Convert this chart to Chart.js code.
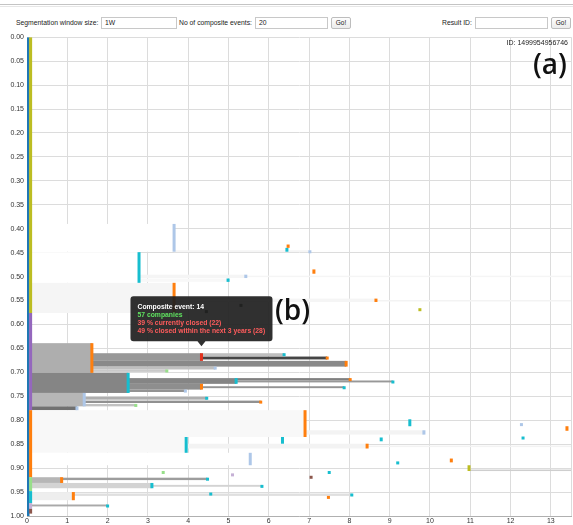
<!DOCTYPE html>
<html>
<head>
<meta charset="utf-8">
<script src="https://cdn.jsdelivr.net/npm/chart.js@4.4.1/dist/chart.umd.min.js"></script>
<style>
  body { margin: 0; width: 573px; height: 525px; overflow: hidden; background: #fff; position: relative;
         font-family: "Liberation Sans", Arial, sans-serif; color: #222; }
  .rule { position: absolute; left: 0; top: 4px; width: 573px; height: 1px; border-top: 1px solid #c4c4c4; border-bottom: 1px solid #e6e6e6; }
  .lbl { position: absolute; top: 17px; height: 12px; line-height: 12px; font-size: 6.8px; white-space: nowrap; }
  .inp { position: absolute; top: 17px; height: 12px; box-sizing: border-box; border: 1px solid #c8c8c8; background: #fff;
         font-size: 6.8px; line-height: 10px; padding-left: 3px; }
  .btn { position: absolute; top: 17px; height: 12px; box-sizing: border-box; border: 1px solid #bdbdbd; border-radius: 2px;
         background: linear-gradient(#fdfdfd, #ececec); font-size: 6.5px; line-height: 10px; text-align: center; }
  #wrap { position: absolute; left: 0; top: 30px; width: 573px; height: 495px; }
  .id { position: absolute; right: 5px; top: 39px; font-size: 7px; }
  .tag { position: absolute; font-family: "Open Sans", "Noto Sans", sans-serif; font-weight: 600; font-size: 28px; color: #111; line-height: 1; }
</style>
</head>
<body>
<div class="rule"></div>
<div class="lbl" style="left:16px">Segmentation window size:</div>
<div class="inp" style="left:101px;width:76px">1W</div>
<div class="lbl" style="left:179px">No of composite events:</div>
<div class="inp" style="left:255px;width:73px">20</div>
<div class="btn" style="left:331px;width:20px">Go!</div>
<div class="lbl" style="left:442px">Result ID:</div>
<div class="inp" style="left:475px;width:73px"></div>
<div class="btn" style="left:551px;width:20px">Go!</div>

<div id="wrap"><canvas id="chart" width="573" height="495"></canvas></div>
<div class="id">ID: 1499954956746</div>
<div class="tag" style="left:533px;top:49px">(a)</div>
<div class="tag" style="left:275px;top:295px">(b)</div>

<script>
// x axis ticks (years) and the right edge of the time range
const xTicks = [0, 1, 2, 3, 4, 5, 6, 7, 8, 9, 10, 11, 12, 13];
const xEnd = 13.5;

// composite-event nodes: time span (x), share of companies (y), event at the end, % closed
const nodeStart  = [0, 0.09, 0.09, 0.09, 0.09, 0.09, 0.09, 0.09,
                    0.1, 3.65, 0.1, 2.78, 2.78, 5.43, 0.1, 3.65, 8.66,
                    0.1, 1.61, 4.33, 4.33, 1.61, 1.61, 1.61,
                    0.1, 2.51, 5.19, 5.19, 2.51, 4.33, 2.51,
                    0.1, 1.42, 1.42, 1.42, 0.1,
                    0.1, 6.9, 0.1, 3.95, 8.44, 0.1, 10.97,
                    0.1, 0.86, 0.1, 3.1, 0.1, 1.15, 0.1];
const nodeEnd    = [0.025, 0.09, 0.09, 0.09, 0.09, 0.09, 0.09, 0.09,
                    3.65, 7.02, 2.78, 4.99, 5.43, 13.5, 3.65, 8.66, 13.5,
                    1.61, 4.33, 6.38, 7.45, 7.92, 4.67, 3.47,
                    2.51, 5.19, 8.02, 9.08, 4.33, 7.87, 3.93,
                    1.42, 4.46, 5.8, 2.7, 1.24,
                    6.9, 9.85, 3.95, 8.44, 13.5, 5.54, 13.5,
                    0.86, 4.48, 3.1, 5.83, 1.15, 8.06, 2.0];
const nodeTop    = [0, 0, 0.576, 0.779, 0.919, 0.948, 0.973, 0.985,
                    0.39, 0.445, 0.449, 0.504, 0.496, 0.498, 0.513, 0.546, 0.549,
                    0.639, 0.66, 0.66, 0.667, 0.676, 0.688, 0.694,
                    0.701, 0.712, 0.712, 0.717, 0.724, 0.729, 0.736,
                    0.743, 0.751, 0.759, 0.766, 0.771,
                    0.779, 0.821, 0.835, 0.849, 0.853, 0.868, 0.903,
                    0.919, 0.92, 0.931, 0.935, 0.95, 0.953, 0.976];
const nodeBottom = [1, 0.576, 0.779, 0.919, 0.948, 0.973, 0.985, 0.995,
                    0.448, 0.449, 0.513, 0.511, 0.503, 0.5, 0.576, 0.553, 0.551,
                    0.701, 0.676, 0.666, 0.673, 0.688, 0.694, 0.699,
                    0.743, 0.724, 0.717, 0.721, 0.736, 0.733, 0.741,
                    0.771, 0.757, 0.764, 0.771, 0.779,
                    0.835, 0.83, 0.868, 0.859, 0.856, 0.894, 0.905,
                    0.931, 0.925, 0.942, 0.939, 0.967, 0.958, 0.98];
const nodeEvent  = ['blue', 'olive', 'purple', 'orange', 'lightgreen', 'cyan', 'lavender', 'brown',
                    'lightblue', 'lightblue', 'cyan', 'cyan', 'lightblue', null, 'orange', 'orange', null,
                    'orange', 'red', 'cyan', 'orange', 'orange', 'lightblue', 'lightgreen',
                    'cyan', 'cyan', 'orange', 'cyan', 'orange', 'cyan', 'lightblue',
                    'lightblue', 'cyan', 'orange', 'lightgreen', 'lightblue',
                    'orange', 'lightblue', 'cyan', 'orange', null, 'lightblue', null,
                    'orange', 'cyan', 'cyan', 'cyan', 'orange', 'cyan', 'cyan'];
const nodeClosed = [0, 0, 0, 0, 0, 0, 0, 0,
                    0, 4, 0, 3, 4, 4, 4, 4, 4,
                    33, 42, 26, 76, 48, 26, 22,
                    50, 50, 52, 42, 46, 44, 44,
                    30, 33, 45, 25, 58,
                    3, 5, 3, 5, 5, 0, 20,
                    30, 40, 18, 18, 7, 13, 35];

// single events without a visible span
const markX      = [6.45, 6.48, 7.12, 9.75, 5.31, 4.45, 9.5, 12.27, 13.4, 6.34, 8.79, 12.31,
                    9.2, 10.53, 10.97, 3.38, 7.5, 5.1, 7.05, 4.56, 7.48];
const markTop    = [0.44, 0.433, 0.485, 0.566, 0.557, 0.570, 0.798, 0.806, 0.8125, 0.835, 0.836, 0.834,
                    0.886, 0.88, 0.894, 0.906, 0.906, 0.911, 0.916, 0.951, 0.958];
const markBottom = [0.448, 0.44, 0.494, 0.572, 0.561, 0.574, 0.8125, 0.81, 0.822, 0.849, 0.844, 0.838,
                    0.891, 0.888, 0.906, 0.91, 0.91, 0.914, 0.92, 0.957, 0.962];
const markEvent  = ['cyan', 'orange', 'orange', 'olive', 'dark', 'dark', 'cyan', 'lightblue', 'orange', 'cyan', 'cyan', 'cyan',
                    'cyan', 'orange', 'olive', 'lightgreen', 'cyan', 'lavender', 'brown', 'cyan', 'orange'];

const tipNode = 18;
const tipLines = ['Composite event: 14', '57 companies', '39 % currently closed (22)', '49 % closed within the next 3 years (28)'];

const eventColors = {
    blue: '#1f77b4', olive: '#bcbd22', purple: '#9467bd', orange: '#ff7f0e', lightgreen: '#98df8a',
    cyan: '#17becf', lavender: '#c5b0d5', brown: '#8c564b', lightblue: '#aec7e8', red: '#e2321d', dark: '#1d2a1d'
};
const tipColors = ['#ffffff', '#5fe05f', '#ff5c5c', '#ff5c5c'];
const FONT = '"Liberation Sans", Arial, sans-serif';

function shade(pct) {
    const l = Math.round(255 - 2.45 * pct);
    return `rgb(${l},${l},${l})`;
}

const icicle = {
    id: 'icicle',
    beforeDatasetsDraw(chart) {
        const { ctx, chartArea: a, scales: { x, y } } = chart;
        ctx.save();
        ctx.beginPath();
        ctx.rect(a.left, a.top, a.right - a.left, a.bottom - a.top);
        ctx.clip();
        // blocks
        for (let i = 0; i < nodeStart.length; i++) {
            const l = x.getPixelForValue(nodeStart[i]);
            const r = x.getPixelForValue(nodeEnd[i]);
            if (r - l < 1) continue;
            const t = y.getPixelForValue(nodeTop[i]);
            const b = y.getPixelForValue(nodeBottom[i]);
            ctx.fillStyle = shade(nodeClosed[i]);
            ctx.fillRect(l, t, r - l, Math.max(b - t, 1.5));
        }
        // event markers at the end of each node
        const mark = (v, top, bottom, ev) => {
            if (!ev) return;
            const p = x.getPixelForValue(v);
            const t = y.getPixelForValue(top);
            const h = Math.max(y.getPixelForValue(bottom) - t, 3);
            ctx.fillStyle = eventColors[ev];
            ctx.fillRect(p - 1.5, t, 3, h);
        };
        for (let i = 0; i < nodeStart.length; i++) mark(nodeEnd[i], nodeTop[i], nodeBottom[i], nodeEvent[i]);
        for (let i = 0; i < markX.length; i++) mark(markX[i], markTop[i], markBottom[i], markEvent[i]);
        ctx.restore();
    },
    afterDraw(chart) {
        const { ctx, scales: { x, y } } = chart;
        const ax = x.getPixelForValue(nodeEnd[tipNode]);
        const ay = y.getPixelForValue(nodeTop[tipNode]) - 7;
        const w = 142, h = 45;
        const left = ax - w / 2, top = ay - 5 - h;
        ctx.save();
        ctx.fillStyle = 'rgba(32,32,32,0.93)';
        ctx.beginPath();
        ctx.roundRect(left, top, w, h, 3);
        ctx.moveTo(ax - 4, top + h);
        ctx.lineTo(ax, ay);
        ctx.lineTo(ax + 4, top + h);
        ctx.closePath();
        ctx.fill();
        ctx.font = 'bold 6.8px ' + FONT;
        ctx.textBaseline = 'alphabetic';
        tipLines.forEach((s, i) => {
            ctx.fillStyle = tipColors[i];
            ctx.fillText(s, left + 7, top + 12.5 + i * 8.2);
        });
        ctx.restore();
    }
};

new Chart(document.getElementById('chart'), {
    type: 'scatter',
    data: { datasets: [] },
    plugins: [icicle],
    options: {
        responsive: false,
        animation: false,
        layout: { padding: { top: 6, right: 2, left: 0, bottom: 0 } },
        plugins: { legend: { display: false }, tooltip: { enabled: false } },
        scales: {
            x: {
                type: 'linear', min: 0, max: xEnd,
                afterFit: s => { s.height = 9; },
                afterBuildTicks: s => { s.ticks = [...xTicks, xEnd].map(v => ({ value: v })); },
                ticks: { padding: 1, maxRotation: 0, autoSkip: false, color: '#333',
                         font: { size: 7, family: FONT },
                         callback: v => xTicks.includes(v) ? String(v) : '' },
                grid: { color: '#dcdcdc', drawTicks: false },
                border: { color: '#b0b0b0' }
            },
            y: {
                type: 'linear', reverse: true, min: 0, max: 1,
                afterFit: s => { s.width = 27; },
                ticks: { stepSize: 0.05, padding: 3, color: '#333', autoSkip: false,
                         font: { size: 7, family: FONT },
                         callback: v => v.toFixed(2) },
                grid: { color: '#dcdcdc', drawTicks: false },
                border: { color: '#b0b0b0' }
            }
        }
    }
});
</script>
</body>
</html>
